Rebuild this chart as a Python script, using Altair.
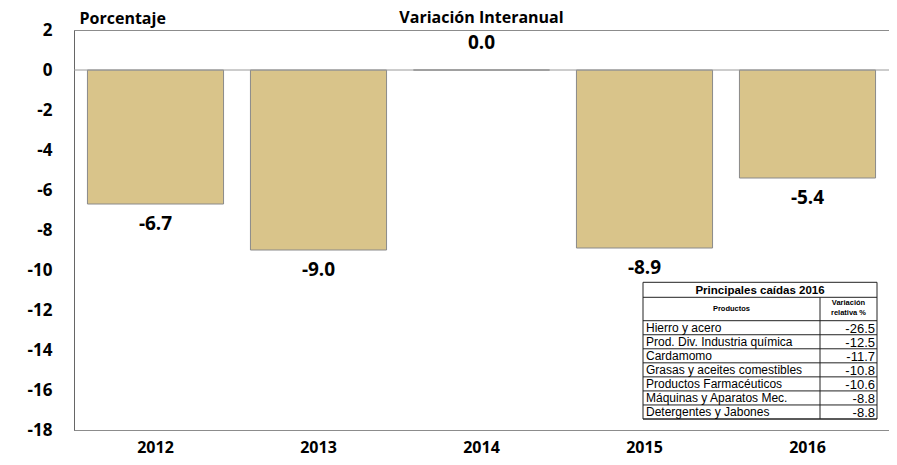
import altair as alt
import pandas as pd

years = ["2012", "2013", "2014", "2015", "2016"]
values = [-6.7, -9.0, 0.0, -8.9, -5.4]

products = [
    "Hierro y acero",
    "Prod. Div. Industria química",
    "Cardamomo",
    "Grasas y aceites comestibles",
    "Productos Farmacéuticos",
    "Máquinas y Aparatos Mec.",
    "Detergentes y Jabones",
]
product_values = [-26.5, -12.5, -11.7, -10.8, -10.6, -8.8, -8.8]
y_ticks = [-18, -16, -14, -12, -10, -8, -6, -4, -2, 0, 2]

df = pd.DataFrame({"year": years, "value": values})
tdf = pd.DataFrame({"product": products, "val": product_values})
one = pd.DataFrame({"k": [0]})

FONT = "Open Sans"
TFONT = "Liberation Sans"
BAR = "#D9C48A"
FIXMINUS = "replace(format(datum.{f}, '.1f'), '\u2212', '-')"

x_axis = alt.Axis(
    title=None, labelAngle=0, ticks=False, labelFontSize=16,
    labelFont=FONT, labelFontWeight="bold", labelColor="#000",
    labelPadding=9, domainColor="#8c8c8c",
)
x_scale = alt.Scale(paddingInner=0.165, paddingOuter=0.0825)
y_axis = alt.Axis(
    values=y_ticks, ticks=False, grid=False,
    labelOverlap=False,
    labelExpr="replace(datum.label, '\u2212', '-')",
    labelFontSize=17, labelFont=FONT, labelFontWeight="bold",
    labelColor="#000", labelPadding=22, domainColor="#666",
    title="Porcentaje", titleAngle=0, titleAlign="left",
    titleBaseline="bottom", titleX=5, titleY=-4, titleFont=FONT,
    titleFontSize=16, titleFontWeight="bold", titleColor="#000",
)
y_scale = alt.Scale(domain=[-18, 2], nice=False, zero=False)

X = alt.X("year:N", sort=years, scale=x_scale, axis=x_axis)
Y = alt.Y("value:Q", scale=y_scale, axis=y_axis)

bars = alt.Chart(df).mark_bar(color=BAR, stroke="#8a8a8a", strokeWidth=1).encode(
    x=X, y=Y
)

zero = alt.Chart(one).mark_rule(color="#9a9a9a", strokeWidth=1).encode(
    y=alt.datum(0, scale=y_scale, axis=y_axis)
)

neg_labels = alt.Chart(df).transform_filter("datum.value < 0").transform_calculate(
    lab=FIXMINUS.format(f="value")
).mark_text(
    dy=20, baseline="middle", font=FONT, fontWeight="bold", fontSize=19, color="#000"
).encode(x=X, y=Y, text="lab:N")

zero_labels = alt.Chart(df).transform_filter("datum.value == 0").transform_calculate(
    lab=FIXMINUS.format(f="value")
).mark_text(
    dy=-27, baseline="middle", font=FONT, fontWeight="bold", fontSize=19, color="#000"
).encode(x=X, y=Y, text="lab:N")

main = alt.layer(bars, zero, neg_labels, zero_labels)

# ---- inset table ----
TL, TR, TD = 569, 803, 746
T_TOP, H_TOP, D_TOP, T_BOT = 252.3, 267.3, 290.7, 389

row_scale = alt.Scale(domain=[0, 7], range=[D_TOP, T_BOT], nice=False, zero=False)

box = alt.Chart(one).mark_rect(fill="white", stroke="#222", strokeWidth=1).encode(
    x=alt.value(TL), x2=alt.value(TR), y=alt.value(T_TOP), y2=alt.value(T_BOT)
)
hline1 = alt.Chart(one).mark_rule(color="#222", strokeWidth=1).encode(
    x=alt.value(TL), x2=alt.value(TR), y=alt.value(H_TOP)
)
hline2 = alt.Chart(one).mark_rule(color="#222", strokeWidth=1).encode(
    x=alt.value(TL), x2=alt.value(TR), y=alt.value(D_TOP)
)
vline = alt.Chart(one).mark_rule(color="#222", strokeWidth=1).encode(
    x=alt.value(TD), y=alt.value(H_TOP), y2=alt.value(T_BOT)
)

base_rows = alt.Chart(tdf).transform_window(row="row_number()").transform_calculate(
    mid="datum.row - 0.5", lab=FIXMINUS.format(f="val")
)

row_lines = base_rows.mark_rule(color="#222", strokeWidth=1).encode(
    x=alt.value(TL), x2=alt.value(TR),
    y=alt.Y("row:Q", scale=row_scale, axis=None),
)

names = base_rows.mark_text(
    align="left", baseline="middle", font=TFONT, fontSize=12, color="#000"
).encode(
    x=alt.value(TL + 3),
    y=alt.Y("mid:Q", scale=row_scale, axis=None),
    text="product:N",
)

nums = base_rows.mark_text(
    align="right", baseline="middle", font=TFONT, fontSize=13, color="#000", dy=1
).encode(
    x=alt.value(TR - 2),
    y=alt.Y("mid:Q", scale=row_scale, axis=None),
    text="lab:N",
)

ttitle = alt.Chart(one).mark_text(
    align="center", baseline="middle", font=TFONT, fontSize=11.5,
    fontWeight="bold", color="#000", dy=1,
).encode(
    x=alt.value((TL + TR) / 2), y=alt.value((T_TOP + H_TOP) / 2),
    text=alt.value("Principales caídas 2016"),
)
hprod = alt.Chart(one).mark_text(
    align="center", baseline="middle", font=TFONT, fontSize=7.5,
    fontWeight="bold", color="#000",
).encode(
    x=alt.value((TL + TD) / 2), y=alt.value((H_TOP + D_TOP) / 2),
    text=alt.value("Productos"),
)
hvar = alt.Chart(one).mark_text(
    align="center", baseline="top", font=TFONT, fontSize=7.5,
    fontWeight="bold", color="#000", lineHeight=10,
).encode(
    x=alt.value((TD + TR) / 2), y=alt.value(H_TOP + 2),
    text=alt.value(["Variación", "relativa  %"]),
)

table = alt.layer(box, hline1, hline2, vline, row_lines, names, nums, ttitle, hprod, hvar)

chart = alt.layer(main, table).resolve_scale(y="independent").properties(
    width=815,
    height=400,
    title=alt.TitleParams(
        "Variación Interanual", font=FONT, fontSize=16, fontWeight="bold",
        color="#000", anchor="middle", offset=-16,
    ),
    autosize=alt.AutoSizeParams(type="none"),
    padding={"left": 66, "top": 22, "right": 0, "bottom": 27},
).configure_view(stroke="#8c8c8c", strokeWidth=1).configure_axis(labelOverlap=False)

chart.save("out.html", embed_options={"renderer": "svg", "actions": False})
